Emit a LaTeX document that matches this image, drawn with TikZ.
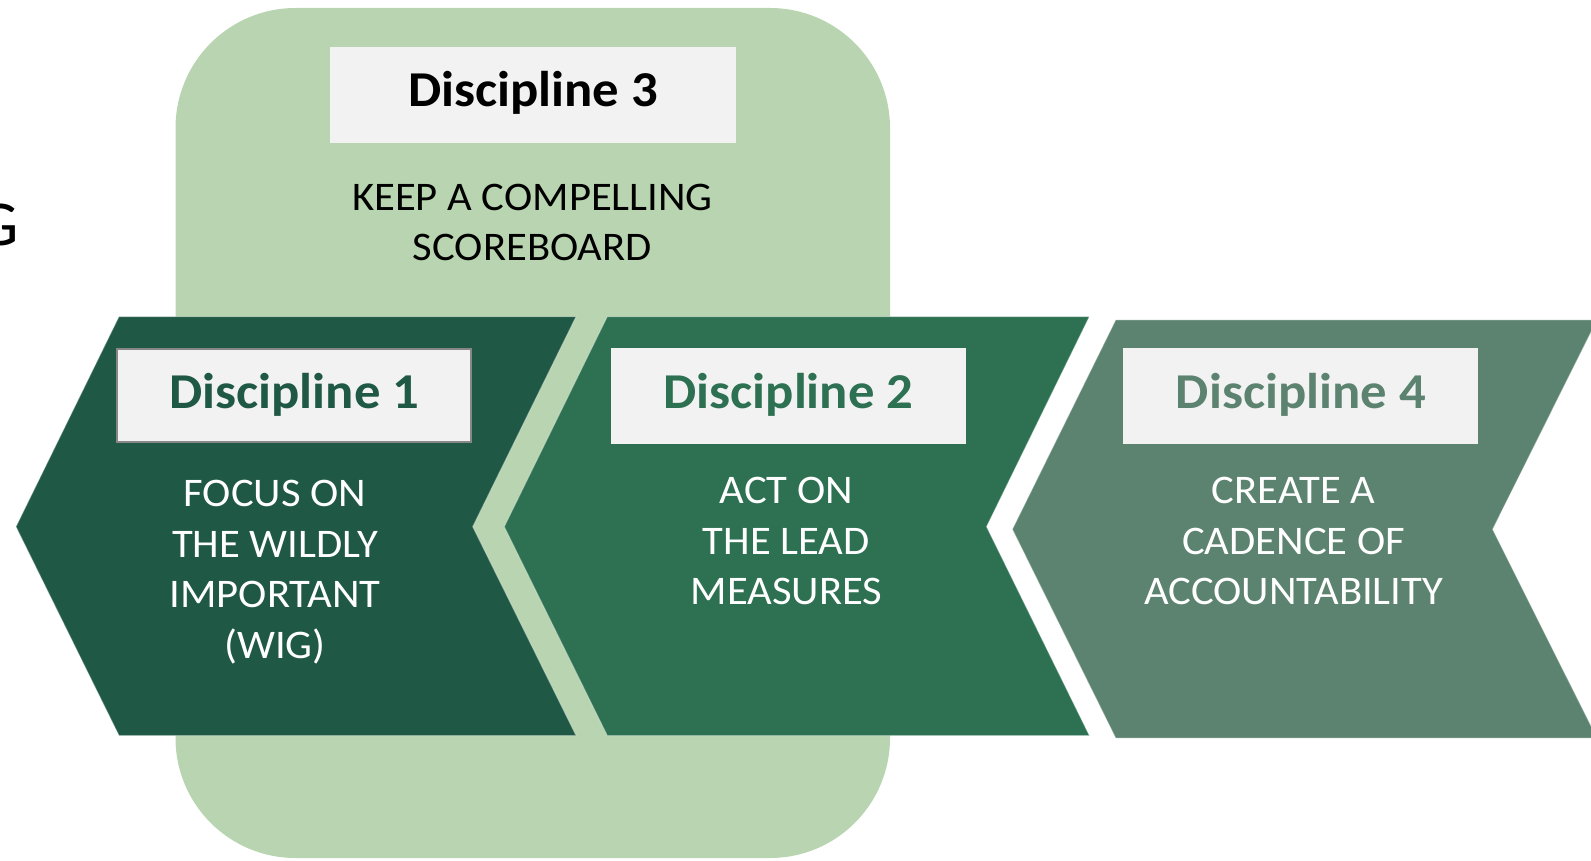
\documentclass[tikz,border=0pt]{standalone}
\usepackage{fontspec}
\setmainfont{Carlito}[FakeStretch=1.05]
\definecolor{lightgreen}{RGB}{185,212,176}
\definecolor{chevA}{RGB}{31,89,69}
\definecolor{chevB}{RGB}{45,113,82}
\definecolor{chevC}{RGB}{92,131,111}
\definecolor{headfill}{RGB}{242,242,242}
\definecolor{headborder}{RGB}{135,135,135}
\begin{document}
\begin{tikzpicture}[x=0.5pt,y=-0.5pt,
  chev/.style={draw=white, draw opacity=0.35, line width=0.5pt},
  headbox/.style={fill=headfill, inner sep=0pt, minimum width=177.7pt, minimum height=48pt},
  title/.style={inner sep=0pt, anchor=base, font=\bfseries\fontsize{25.1}{30}\selectfont},
  body/.style={inner sep=0pt, anchor=base, align=center, font=\fontsize{20.3}{25.35}\selectfont}]
\useasboundingbox (0,0) rectangle (1591,861);
\clip (0,0) rectangle (1591,861);
% background panel of Discipline 3
\fill[lightgreen, rounded corners=60pt] (175.5,8) rectangle (890,858);
% chevrons
\path[fill=chevA, chev] (119,316.6) -- (576,316.6) -- (472.7,526.7) -- (576,735.5) -- (119,735.5) -- (16,526.7) -- cycle;
\path[fill=chevB, chev] (607.3,316.6) -- (1089.3,316.6) -- (986.5,526.7) -- (1089.3,735.5) -- (607.3,735.5) -- (504.3,526.7) -- cycle;
\path[fill=chevC, chev] (1115.7,320) -- (1597,320) -- (1492.6,529.3) -- (1597,738) -- (1115.7,738) -- (1012.4,529.3) -- cycle;
% header boxes
\node[headbox, minimum width=202.9pt] (h3) at (532.8,94.9) {};
\node[headbox, draw=headborder, line width=1.1pt, minimum width=176.8pt, minimum height=46.8pt] (h1) at (293.8,395.5) {};
\node[headbox] (h2) at (788.6,395.8) {};
\node[headbox] (h4) at (1300.4,395.8) {};
% titles
\node[title, text=black] (t3) at (533,106.5) {Discipline 3};
\node[title, text=chevA] (t1) at (294.3,408.2) {Discipline 1};
\node[title, text=chevB] (t2) at (788.4,408.2) {Discipline 2};
\node[title, text=chevC] (t4) at (1300.8,408.2) {Discipline 4};
% bodies (anchor = baseline of the last line)
\node[body, text=black] (b3) at (532.5,261) {KEEP A COMPELLING\\SCOREBOARD};
\node[body, text=white] (b1) at (275,658.4) {FOCUS ON\\THE WILDLY\\IMPORTANT\\(WIG)};
\node[body, text=white] (b2) at (786.4,604.7) {ACT ON\\THE LEAD\\MEASURES};
\node[body, text=white] (b4) at (1293.7,604.7) {CREATE A\\CADENCE OF\\ACCOUNTABILITY};
% cut-off letter at the left edge
\node[inner sep=0pt, anchor=base east, font=\fontsize{32}{38}\selectfont] (g) at (19.5,246) {G};
\end{tikzpicture}
\end{document}
